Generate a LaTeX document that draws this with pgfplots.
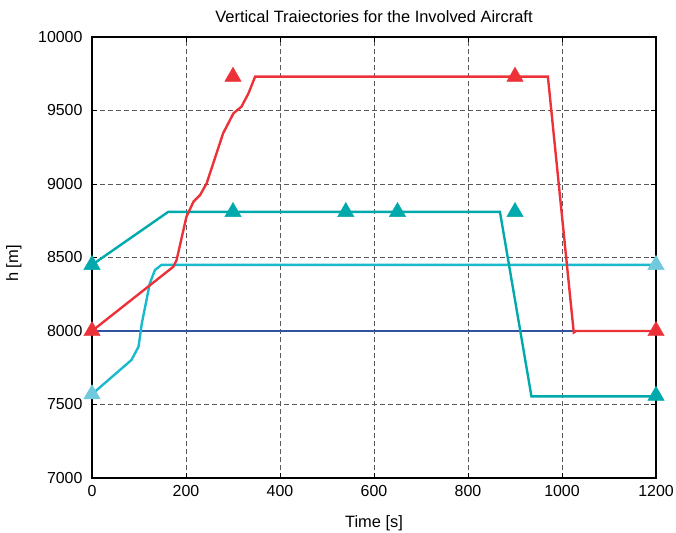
\documentclass[border=0pt]{standalone}
\usepackage{fontspec}
\setmainfont{Liberation Sans}
\usepackage{pgfplots}
\pgfplotsset{compat=1.18}
\usetikzlibrary{calc}

\definecolor{trred}{RGB}{236,50,56}
\definecolor{trteal}{RGB}{0,170,172}
\definecolor{trcyan}{RGB}{25,186,206}
\definecolor{trcyanmk}{RGB}{112,202,222}
\definecolor{trblue}{RGB}{48,82,160}

\begin{document}
\begin{tikzpicture}
  \begin{axis}[
    name=main,
    scale only axis,
    width=564bp, height=441bp,
    xmin=0, xmax=1200, ymin=7000, ymax=10000,
    xtick={0,200,...,1200},
    ytick={7000,7500,...,10000},
    scaled y ticks=false,
    scaled x ticks=false,
    grid=major,
    grid style={dash pattern=on 5bp off 3bp, black!65, line width=0.7pt},
    axis line style={black, line width=1.3pt},
    tick align=inside,
    major tick length=5bp,
    tick style={black, line width=0.8pt},
    /pgf/number format/assume math mode=true,
    /pgf/number format/1000 sep={},
    tick label style={font=\fontsize{16}{19}\selectfont},
    yticklabel style={xshift=-6bp},
    xticklabel style={yshift=-4bp},
    label style={font=\fontsize{16.5}{19}\selectfont},
    title style={font=\fontsize{16.5}{19}\selectfont, at={(0.5,1)}, anchor=center, yshift=14bp},
    title={Vertical Traiectories for the Involved Aircraft},
    xlabel={Time [s]},
    xlabel style={at={(0.5,0)}, anchor=center, yshift=-45bp},
    ylabel={h [m]},
    ylabel style={at={(0,0.5)}, anchor=center, yshift=78bp, xshift=-6bp},
    clip=false,
  ]
    % aircraft at constant 8000 m
    \addplot[trblue, line width=2.4pt] coordinates {(0,8000) (1200,8000)};

    % climbing aircraft 7570 -> 8450
    \addplot[trcyan, line width=2.4pt] coordinates {
      (0,7570) (84,7803) (99,7893) (106,8052) (123,8324) (134,8415)
      (148,8450) (1200,8450)
    };

    % aircraft 8450 -> 8810 -> 7555
    \addplot[trteal, line width=2.4pt] coordinates {
      (0,8450) (162,8810) (868,8810) (935,7555) (1200,7555)
    };

    % aircraft 8000 -> 9730 -> 8000
    \addplot[trred, line width=2.4pt] coordinates {
      (0,8000) (173,8437) (180,8483) (201,8778) (216,8880) (230,8925)
      (244,9005) (258,9141) (279,9345) (301,9481) (318,9526) (333,9617)
      (347,9730) (970,9730) (1025,7990) (1030,8000) (1200,8000)
    };

    % way points
    \addplot[trteal, only marks, mark=triangle*, mark size=9.5bp,
      mark options={solid, draw=trteal, fill=trteal}] coordinates {
      (0,8450) (300,8810) (540,8810) (650,8810) (900,8810) (1200,7560)
    };
    \addplot[trcyanmk, only marks, mark=triangle*, mark size=9.5bp,
      mark options={solid, draw=trcyanmk, fill=trcyanmk}] coordinates {
      (0,7570) (1200,8450)
    };
    \addplot[trred, only marks, mark=triangle*, mark size=9.5bp,
      mark options={solid, draw=trred, fill=trred}] coordinates {
      (0,8000) (300,9730) (900,9730) (1200,8000)
    };
  \end{axis}
  \pgfresetboundingbox
  \path ($(main.south west)+(-92bp,-55bp)$) rectangle ($(main.north east)+(20bp,37bp)$);
\end{tikzpicture}
\end{document}
